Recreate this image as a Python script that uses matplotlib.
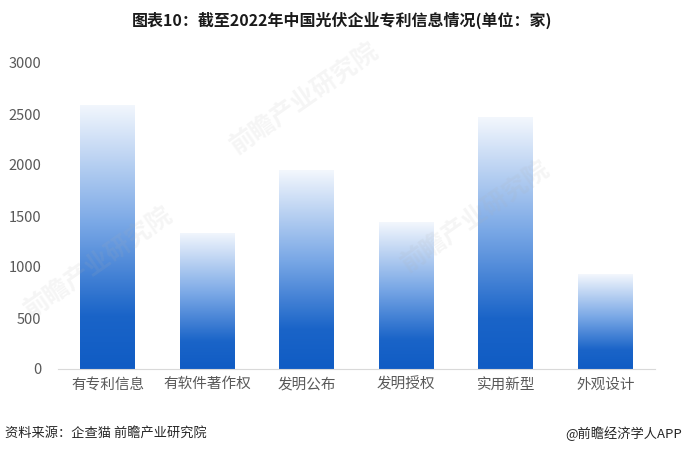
import matplotlib
matplotlib.use('Agg')
import matplotlib.pyplot as plt
import numpy as np
from matplotlib.colors import LinearSegmentedColormap

plt.rcParams['font.family'] = ['Noto Sans CJK SC', 'DejaVu Sans']

categories = ['有专利信息', '有软件著作权', '发明公布', '发明授权', '实用新型', '外观设计']
values = [2590, 1335, 1950, 1440, 2470, 930]
yticks = [0, 500, 1000, 1500, 2000, 2500, 3000]

cmap = LinearSegmentedColormap.from_list(
    'bar_grad', [(0.0, '#105CC4'), (0.2, '#1A64C8'), (0.55, '#7AA8E6'), (1.0, '#F3F7FD')])

fig = plt.figure(figsize=(6.85, 4.54), dpi=100)
ax = fig.add_axes([58 / 685, 85 / 454, 597 / 685, 306 / 454])

x = np.arange(len(categories))
width = 0.55
grad = np.linspace(0, 1, 256).reshape(-1, 1)
bars = ax.bar(x, values, width, facecolor='none', edgecolor='none')
for b in bars:
    x0, w, h = b.get_x(), b.get_width(), b.get_height()
    im = ax.imshow(grad, cmap=cmap, origin='lower', aspect='auto',
                   extent=(x0, x0 + w, 0, h), zorder=2)
    im.set_clip_path(b)

ax.set_xlim(-0.5, len(categories) - 0.5)
ax.set_ylim(0, 3000)
ax.set_yticks(yticks)
ax.set_xticks(x)
ax.set_xticklabels(categories)
ax.tick_params(axis='both', length=0, labelsize=10.5, colors='#595959', pad=6)
ax.tick_params(axis='y', pad=12)
for s in ['top', 'right', 'left']:
    ax.spines[s].set_visible(False)
ax.spines['bottom'].set_color('#D9D9D9')

# faint watermarks
for (wx, wy) in [(0.33, 0.66), (0.58, 0.40), (0.03, 0.30)]:
    fig.text(wx, wy, '前瞻产业研究院', fontsize=18, color='#B0B0B0', alpha=0.12,
             rotation=35, fontweight='bold', zorder=5)

fig.text(0.5, 0.955, '图表10：截至2022年中国光伏企业专利信息情况(单位：家)',
         ha='center', va='center', fontsize=11.5, fontweight='bold', color='#1A1A1A')
fig.text(0.008, 0.045, '资料来源：企查猫 前瞻产业研究院', ha='left', va='center',
         fontsize=9.5, color='#262626')
fig.text(0.995, 0.045, '@前瞻经济学人APP', ha='right', va='center',
         fontsize=9.5, color='#262626')

fig.savefig('out.png', dpi=100)
